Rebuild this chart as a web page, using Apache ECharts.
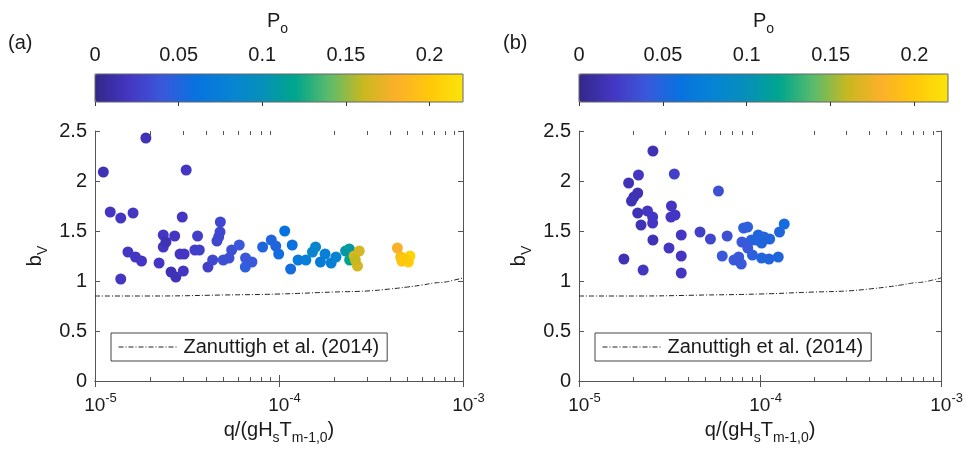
<!DOCTYPE html>
<html><head><meta charset="utf-8">
<script src="https://cdn.jsdelivr.net/npm/echarts@6/dist/echarts.min.js"></script>
<style>html,body{margin:0;padding:0;background:#fff}#c{width:966px;height:458px}</style>
</head><body><div id="c"></div>
<script>
// ---- data: panel (a) ----
const aQ = [1.11e-5,1.89e-5,3.13e-5,1.21e-5,1.38e-5,1.61e-5,2.98e-5,1.38e-5,1.51e-5,1.66e-5,1.79e-5,2.23e-5,2.35e-5,2.35e-5,2.43e-5,2.71e-5,2.59e-5,2.75e-5,3.02e-5,2.90e-5,3.05e-5,3.61e-5,3.49e-5,3.69e-5,4.11e-5,4.36e-5,4.80e-5,4.78e-5,4.70e-5,4.60e-5,4.98e-5,5.35e-5,5.53e-5,6.08e-5,6.56e-5,6.58e-5,7.13e-5,8.15e-5,9.08e-5,9.60e-5,9.96e-5,1.074e-4,1.18e-4,1.157e-4,1.27e-4,1.40e-4,1.52e-4,1.58e-4,1.68e-4,1.78e-4,1.92e-4,2.04e-4,2.30e-4,2.41e-4,2.42e-4,2.56e-4,2.73e-4,2.67e-4,2.60e-4,4.40e-4,4.59e-4,4.65e-4,5.15e-4,5.05e-4,4.80e-4];
const aB = [2.09,2.43,2.11,1.69,1.63,1.68,1.64,1.02,1.29,1.24,1.20,1.18,1.46,1.34,1.39,1.45,1.09,1.04,1.10,1.27,1.27,1.45,1.31,1.31,1.14,1.21,1.59,1.49,1.44,1.40,1.21,1.23,1.31,1.36,1.14,1.23,1.19,1.34,1.41,1.35,1.27,1.50,1.36,1.12,1.21,1.21,1.29,1.34,1.19,1.27,1.18,1.24,1.30,1.32,1.21,1.25,1.30,1.15,1.21,1.33,1.24,1.20,1.25,1.19,1.22];
const aP = [0.015,0.015,0.02,0.02,0.02,0.02,0.02,0.02,0.02,0.02,0.02,0.02,0.02,0.02,0.015,0.02,0.015,0.015,0.02,0.02,0.02,0.025,0.025,0.025,0.025,0.03,0.03,0.03,0.03,0.03,0.035,0.035,0.035,0.04,0.045,0.04,0.04,0.05,0.05,0.05,0.055,0.06,0.06,0.055,0.07,0.075,0.085,0.085,0.07,0.075,0.075,0.08,0.105,0.11,0.12,0.165,0.165,0.165,0.16,0.18,0.19,0.195,0.21,0.205,0.2];
// ---- data: panel (b) ----
const bQ = [2.56e-5,2.13e-5,3.36e-5,1.88e-5,5.89e-5,2.11e-5,2.01e-5,1.95e-5,3.24e-5,3.39e-5,3.22e-5,2.39e-5,2.11e-5,2.55e-5,2.55e-5,2.20e-5,2.56e-5,3.67e-5,3.14e-5,3.67e-5,1.77e-5,2.26e-5,3.67e-5,4.66e-5,5.32e-5,6.58e-5,6.18e-5,7.18e-5,7.62e-5,7.87e-5,7.94e-5,8.11e-5,8.53e-5,8.55e-5,9.07e-5,8.95e-5,9.77e-5,1.02e-4,1.05e-4,1.13e-4,1.02e-4,1.12e-4,1.26e-4,1.28e-4,1.36e-4,9.5e-5];
const bB = [2.30,2.06,2.07,1.98,1.90,1.88,1.84,1.80,1.75,1.66,1.64,1.70,1.68,1.64,1.58,1.56,1.41,1.46,1.33,1.25,1.22,1.11,1.08,1.49,1.42,1.45,1.25,1.21,1.24,1.17,1.39,1.53,1.54,1.33,1.26,1.41,1.46,1.38,1.44,1.42,1.23,1.22,1.24,1.49,1.57,1.41];
const bP = [0.015,0.02,0.025,0.015,0.035,0.015,0.015,0.015,0.02,0.02,0.02,0.02,0.015,0.02,0.02,0.015,0.015,0.02,0.02,0.02,0.015,0.02,0.02,0.025,0.03,0.035,0.04,0.04,0.04,0.04,0.04,0.045,0.045,0.04,0.045,0.045,0.05,0.05,0.05,0.05,0.05,0.05,0.05,0.05,0.055,0.05];
// ---- Zanuttigh et al. (2014) curve ----
const zQ = [1e-5,2e-5,5e-5,1e-4,2e-4,3e-4,4e-4,5e-4,6e-4,7e-4,8e-4,9e-4,1e-3];
const zB = [0.85,0.85,0.86,0.87,0.89,0.90,0.92,0.94,0.96,0.98,0.99,1.01,1.03];
// ---- ticks ----
const xMajor = [1e-5,1e-4,1e-3];
const xMinor = [2e-5,3e-5,4e-5,5e-5,6e-5,7e-5,8e-5,9e-5,2e-4,3e-4,4e-4,5e-4,6e-4,7e-4,8e-4,9e-4];
const pTicks = [0,0.05,0.1,0.15,0.2];
const P_MAX = 0.22;
const LINE_NAME = 'Zanuttigh et al. (2014)';

const FONT = "'Liberation Sans', Arial, Helvetica, sans-serif";
const TXT = '#1a1a1a';
const AX = '#555';
const PARULA = ['#33278a','#4436c2','#3a58da','#0872e0','#0783d4','#0690b8','#00a68c','#5cbb6c','#c8b820','#fcb02a','#ffc80a','#fbe40a'];

const zip3 = (q,b,p) => q.map((v,i)=>[v,b[i],p[i]]);
const zip2 = (q,b) => q.map((v,i)=>[v,b[i]]);
const minorLog = xMinor.map(v=>Math.log10(v));

const richX = {
  sp:{width:11},
  b:{fontSize:19, fontFamily:FONT, color:TXT, lineHeight:28, verticalAlign:'middle'},
  s:{fontSize:13, fontFamily:FONT, color:TXT, lineHeight:14, verticalAlign:'top'}
};
function xLabelFmt(v){
  const e = Math.round(Math.log10(v));
  return '{sp| }{b|10}{s|' + e + '}';
}

function plotAxes(gi){
  const lineS = {show:true, lineStyle:{color:AX, width:1}};
  return [
    {gridIndex:gi, type:'log', logBase:10, min:xMajor[0], max:xMajor[2], position:'bottom',
     axisLine:lineS, axisTick:{show:true, inside:true, length:6, lineStyle:{color:AX}},
     splitLine:{show:false}, minorTick:{show:false},
     axisLabel:{margin:11, formatter:xLabelFmt, rich:richX, showMinLabel:true, showMaxLabel:true},
     name:'{n|q/(gH}{s|s}{n|T}{s|m-1,0}{n|)}', nameLocation:'middle', nameGap:34,
     nameTextStyle:{rich:{
       n:{fontSize:20, fontFamily:FONT, color:TXT, lineHeight:30, verticalAlign:'middle'},
       s:{fontSize:14, fontFamily:FONT, color:TXT, lineHeight:14, verticalAlign:'bottom'}}}},
    {gridIndex:gi, type:'log', logBase:10, min:xMajor[0], max:xMajor[2], position:'top',
     axisLine:lineS, axisTick:{show:true, inside:true, length:6, lineStyle:{color:AX}},
     axisLabel:{show:false}, splitLine:{show:false}},
    {gridIndex:gi, type:'value', min:-5, max:-3, position:'bottom',
     axisLine:{show:false}, axisLabel:{show:false}, splitLine:{show:false},
     axisTick:{show:true, inside:true, length:4, customValues:minorLog, lineStyle:{color:AX}}},
    {gridIndex:gi, type:'value', min:-5, max:-3, position:'top',
     axisLine:{show:false}, axisLabel:{show:false}, splitLine:{show:false},
     axisTick:{show:true, inside:true, length:4, customValues:minorLog, lineStyle:{color:AX}}}
  ];
}
function plotYAxes(gi){
  const lineS = {show:true, lineStyle:{color:AX, width:1}};
  return [
    {gridIndex:gi, type:'value', min:0, max:2.5, interval:0.5, position:'left',
     axisLine:lineS, axisTick:{show:true, inside:true, length:5, lineStyle:{color:AX}},
     splitLine:{show:false},
     axisLabel:{margin:8, fontSize:20, fontFamily:FONT, color:TXT},
     name:'{n|b}{s|V}', nameLocation:'middle', nameGap:45, nameRotate:90,
     nameTextStyle:{rich:{
       n:{fontSize:20, fontFamily:FONT, color:TXT, lineHeight:30, verticalAlign:'middle'},
       s:{fontSize:14, fontFamily:FONT, color:TXT, lineHeight:14, verticalAlign:'bottom'}}}},
    {gridIndex:gi, type:'value', min:0, max:2.5, interval:0.5, position:'right',
     axisLine:lineS, axisTick:{show:true, inside:true, length:5, lineStyle:{color:AX}},
     splitLine:{show:false}, axisLabel:{show:false}}
  ];
}
function cbXAxis(gi){
  return {gridIndex:gi, type:'value', min:0, max:P_MAX, interval:0.05, position:'top', z:11,
    axisLine:{show:false}, splitLine:{show:false},
    axisTick:{show:true, inside:true, length:4, customValues:pTicks, lineStyle:{color:'#333'}},
    axisLabel:{margin:9, fontSize:20, fontFamily:FONT, color:TXT, customValues:pTicks}};
}
function cbYAxis(gi){ return {gridIndex:gi, type:'value', show:false, min:0, max:1}; }

const subRich = {
  p:{fontSize:20, fontFamily:FONT, fontWeight:'normal', color:TXT, lineHeight:30, verticalAlign:'middle'},
  o:{fontSize:14, fontFamily:FONT, fontWeight:'normal', color:TXT, lineHeight:14, verticalAlign:'bottom'}
};

function legendOf(left){
  return {data:[LINE_NAME], left:left, top:333, orient:'horizontal', itemWidth:60, itemHeight:14, itemGap:0,
    selectedMode:false, backgroundColor:'#fff', borderColor:'#444', borderWidth:1, padding:[4,8,4,7],
    itemStyle:{opacity:0, borderWidth:0},
    lineStyle:{color:'#222', width:1, type:[5,2,1,2]},
    textStyle:{fontSize:20, fontFamily:FONT, color:TXT}};
}

const option = {
  animation:false,
  backgroundColor:'#fff',
  textStyle:{fontFamily:FONT},
  title:[
    {text:'(a)', left:8, top:33, padding:0, textStyle:{fontSize:20, fontWeight:'normal', fontFamily:FONT, color:TXT}},
    {text:'(b)', left:503, top:33, padding:0, textStyle:{fontSize:20, fontWeight:'normal', fontFamily:FONT, color:TXT}},
    {text:'{p|P}{o|o}', left:267, top:6, padding:0, textStyle:{fontWeight:'normal', rich:subRich}},
    {text:'{p|P}{o|o}', left:753, top:6, padding:0, textStyle:{fontWeight:'normal', rich:subRich}}
  ],
  grid:[
    {left:95, top:131, width:368, height:250},
    {left:579, top:131, width:369, height:250},
    {left:95, top:74, width:368, height:28, show:true, borderColor:'#666', borderWidth:1, z:10},
    {left:579, top:74, width:369, height:28, show:true, borderColor:'#666', borderWidth:1, z:10}
  ],
  xAxis:[...plotAxes(0), ...plotAxes(1), cbXAxis(2), cbXAxis(3)],
  yAxis:[...plotYAxes(0), ...plotYAxes(1), cbYAxis(2), cbYAxis(3)],
  visualMap:[
    {type:'continuous', seriesIndex:0, dimension:2, min:0, max:P_MAX, orient:'horizontal',
     left:95, top:74, itemWidth:28, itemHeight:368, calculable:false, hoverLink:false,
     text:null, showLabel:false, padding:0, inRange:{color:PARULA}},
    {type:'continuous', seriesIndex:1, dimension:2, min:0, max:P_MAX, orient:'horizontal',
     left:579, top:74, itemWidth:28, itemHeight:369, calculable:false, hoverLink:false,
     text:null, showLabel:false, padding:0, inRange:{color:PARULA}}
  ],
  legend:[legendOf(111), legendOf(595)],
  series:[
    {type:'scatter', xAxisIndex:0, yAxisIndex:0, data:zip3(aQ,aB,aP), symbolSize:11, itemStyle:{opacity:1}, z:3},
    {type:'scatter', xAxisIndex:4, yAxisIndex:2, data:zip3(bQ,bB,bP), symbolSize:11, itemStyle:{opacity:1}, z:3},
    {type:'line', name:LINE_NAME, xAxisIndex:0, yAxisIndex:0, data:zip2(zQ,zB), symbol:'none', smooth:true,
     lineStyle:{color:'#222', width:1, type:[5,2,1,2]}, z:2},
    {type:'line', name:LINE_NAME, xAxisIndex:4, yAxisIndex:2, data:zip2(zQ,zB), symbol:'none', smooth:true,
     lineStyle:{color:'#222', width:1, type:[5,2,1,2]}, z:2}
  ]
};
const chart = echarts.init(document.getElementById('c'), null, {renderer:'canvas'});
chart.setOption(option);
</script></body></html>
